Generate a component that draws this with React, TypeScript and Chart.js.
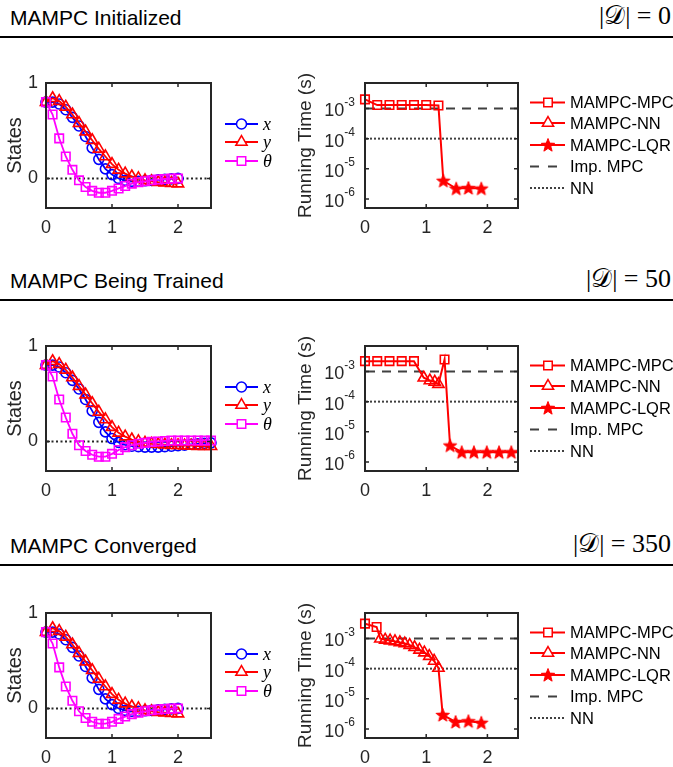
import React, { useEffect, useRef } from 'react';
import { Chart, registerables } from 'chart.js';

Chart.register(...registerables);

const SANS = '"Liberation Sans", Arial, Helvetica, sans-serif';
const SERIF = '"Liberation Serif", "DejaVu Serif", serif';
const BLUE = '#0000ff';
const RED = '#ff0000';
const MAGENTA = '#ff00ff';
const REF_GRAY = '#404040';
const AXIS = '#262626';

// ---------- tick labels ----------
const STATE_X_TICKS = [0, 1, 2];
const STATE_Y_TICKS = [0, 1];
const RUN_X_TICKS = [0, 1, 2];
const RUN_Y_TICKS = [1e-6, 1e-5, 1e-4, 1e-3];

// ---------- reference values ----------
const ZERO_STATE = 0;
const IMP_MPC_TIME = 1e-3;
const NN_TIME = 1e-4;

// ---------- time vectors ----------
const T_20 = [0, 0.1, 0.2, 0.3, 0.4, 0.5, 0.6, 0.7, 0.8, 0.9, 1.0, 1.1, 1.2, 1.3, 1.4, 1.5, 1.6, 1.7, 1.8, 1.9, 2.0];
const T_25 = [0, 0.1, 0.2, 0.3, 0.4, 0.5, 0.6, 0.7, 0.8, 0.9, 1.0, 1.1, 1.2, 1.3, 1.4, 1.5, 1.6, 1.7, 1.8, 1.9, 2.0, 2.1, 2.2, 2.3, 2.4, 2.5];

// ---------- panel 1 : MAMPC Initialized ----------
const P1_X = [0.80, 0.80, 0.78, 0.72, 0.64, 0.55, 0.44, 0.32, 0.20, 0.10, 0.04, 0.0, -0.02, -0.03, -0.03, -0.025, -0.02, -0.015, -0.01, -0.005, 0.0];
const P1_Y = [0.80, 0.84, 0.81, 0.75, 0.67, 0.58, 0.49, 0.40, 0.31, 0.23, 0.15, 0.09, 0.05, 0.02, 0.0, -0.02, -0.03, -0.04, -0.045, -0.05, -0.055];
const P1_TH = [0.80, 0.67, 0.42, 0.23, 0.09, -0.02, -0.09, -0.13, -0.15, -0.15, -0.13, -0.105, -0.08, -0.055, -0.04, -0.03, -0.02, -0.012, -0.006, -0.002, 0.0];
const P1_MPC_T = [0, 0.2, 0.4, 0.6, 0.8, 1.0, 1.2];
const P1_MPC_V = [2.0e-3, 1.3e-3, 1.3e-3, 1.3e-3, 1.3e-3, 1.3e-3, 1.25e-3];
const P1_NN_T: number[] = [];
const P1_NN_V: number[] = [];
const P1_LQR_T = [1.28, 1.49, 1.69, 1.9];
const P1_LQR_V = [4.0e-6, 2.2e-6, 2.3e-6, 2.2e-6];

// ---------- panel 2 : MAMPC Being Trained ----------
const P2_X = [0.80, 0.80, 0.78, 0.72, 0.64, 0.55, 0.44, 0.32, 0.20, 0.10, 0.03, -0.01, -0.035, -0.05, -0.055, -0.06, -0.06, -0.06, -0.055, -0.05, -0.045, -0.04, -0.03, -0.025, -0.02, -0.015];
const P2_Y = [0.80, 0.84, 0.81, 0.75, 0.67, 0.58, 0.49, 0.40, 0.31, 0.23, 0.15, 0.09, 0.05, 0.02, 0.0, -0.015, -0.025, -0.03, -0.035, -0.04, -0.04, -0.045, -0.045, -0.05, -0.05, -0.05];
const P2_TH = [0.80, 0.68, 0.44, 0.25, 0.08, -0.04, -0.10, -0.14, -0.16, -0.16, -0.13, -0.09, -0.06, -0.04, -0.025, -0.015, -0.005, 0.0, 0.005, 0.01, 0.01, 0.01, 0.01, 0.01, 0.01, 0.01];
const P2_MPC_T = [0, 0.2, 0.4, 0.6, 0.8, 1.3];
const P2_MPC_V = [2.2e-3, 2.2e-3, 2.2e-3, 2.2e-3, 2.2e-3, 2.5e-3];
const P2_NN_T = [0.96, 1.06, 1.14, 1.2];
const P2_NN_V = [6.2e-4, 5.0e-4, 4.5e-4, 3.8e-4];
const P2_LQR_T = [1.39, 1.58, 1.78, 1.99, 2.19, 2.39, 2.59];
const P2_LQR_V = [3.5e-6, 2.1e-6, 2.1e-6, 2.1e-6, 2.1e-6, 2.1e-6, 2.1e-6];

// ---------- panel 3 : MAMPC Converged ----------
const P3_X = [0.80, 0.80, 0.78, 0.72, 0.64, 0.55, 0.44, 0.32, 0.20, 0.10, 0.04, 0.0, -0.02, -0.03, -0.03, -0.025, -0.02, -0.015, -0.01, -0.005, 0.0];
const P3_Y = [0.80, 0.84, 0.81, 0.75, 0.67, 0.58, 0.49, 0.40, 0.31, 0.23, 0.15, 0.09, 0.05, 0.02, 0.0, -0.02, -0.03, -0.04, -0.045, -0.05, -0.055];
const P3_TH = [0.80, 0.68, 0.43, 0.23, 0.08, -0.03, -0.10, -0.14, -0.16, -0.16, -0.14, -0.11, -0.085, -0.06, -0.045, -0.03, -0.02, -0.012, -0.006, -0.002, 0.0];
const P3_MPC_T = [0, 0.19];
const P3_MPC_V = [3.1e-3, 2.4e-3];
const P3_NN_T = [0.25, 0.33, 0.41, 0.49, 0.57, 0.65, 0.73, 0.81, 0.89, 0.97, 1.05, 1.13, 1.2];
const P3_NN_V = [9.8e-4, 9.0e-4, 8.5e-4, 8.0e-4, 7.4e-4, 6.8e-4, 6.0e-4, 5.1e-4, 4.2e-4, 3.4e-4, 2.6e-4, 1.8e-4, 1.05e-4];
const P3_LQR_T = [1.27, 1.48, 1.69, 1.9];
const P3_LQR_V = [2.9e-6, 1.7e-6, 1.8e-6, 1.6e-6];

const PANEL_TITLES = ['MAMPC Initialized', 'MAMPC Being Trained', 'MAMPC Converged'];
const DATASET_SIZES = ['0', '50', '350'];

type Panel = {
  title: string; size: string; headerTop: number; chartTop: number;
  t: number[]; x: number[]; y: number[]; th: number[];
  mpcT: number[]; mpcV: number[]; nnT: number[]; nnV: number[]; lqrT: number[]; lqrV: number[];
};

const PANELS: Panel[] = [
  { title: PANEL_TITLES[0], size: DATASET_SIZES[0], headerTop: 0, chartTop: 0, t: T_20, x: P1_X, y: P1_Y, th: P1_TH,
    mpcT: P1_MPC_T, mpcV: P1_MPC_V, nnT: P1_NN_T, nnV: P1_NN_V, lqrT: P1_LQR_T, lqrV: P1_LQR_V },
  { title: PANEL_TITLES[1], size: DATASET_SIZES[1], headerTop: 263, chartTop: 263, t: T_25, x: P2_X, y: P2_Y, th: P2_TH,
    mpcT: P2_MPC_T, mpcV: P2_MPC_V, nnT: P2_NN_T, nnV: P2_NN_V, lqrT: P2_LQR_T, lqrV: P2_LQR_V },
  { title: PANEL_TITLES[2], size: DATASET_SIZES[2], headerTop: 528, chartTop: 530, t: T_20, x: P3_X, y: P3_Y, th: P3_TH,
    mpcT: P3_MPC_T, mpcV: P3_MPC_V, nnT: P3_NN_T, nnV: P3_NN_V, lqrT: P3_LQR_T, lqrV: P3_LQR_V },
];

// ---------- helpers ----------
function makeStar(r: number, color: string): HTMLCanvasElement {
  const size = Math.ceil(2 * r + 4);
  const c = document.createElement('canvas');
  c.width = size; c.height = size;
  const g = c.getContext('2d')!;
  const cx = size / 2, cy = size / 2 + 0.5, ri = r * 0.42;
  g.beginPath();
  for (let i = 0; i < 10; i++) {
    const a = -Math.PI / 2 + (i * Math.PI) / 5;
    const rr = i % 2 ? ri : r;
    g.lineTo(cx + rr * Math.cos(a), cy + rr * Math.sin(a));
  }
  g.closePath();
  g.fillStyle = color; g.fill();
  g.strokeStyle = color; g.lineWidth = 1; g.stroke();
  return c;
}

function drawMarker(ctx: CanvasRenderingContext2D, marker: any, x: number, y: number, r: number, color: string, lw: number) {
  if (!marker) return;
  if (typeof marker !== 'string') {
    ctx.drawImage(marker, x - marker.width / 2, y - marker.height / 2);
    return;
  }
  ctx.save();
  ctx.setLineDash([]);
  ctx.strokeStyle = color; ctx.lineWidth = lw;
  ctx.beginPath();
  if (marker === 'circle') ctx.arc(x, y, r, 0, Math.PI * 2);
  else if (marker === 'rect') { const s = r * Math.SQRT1_2; ctx.rect(x - s, y - s, 2 * s, 2 * s); }
  else if (marker === 'triangle') {
    for (let i = 0; i < 3; i++) {
      const a = (i * 2 * Math.PI) / 3;
      const px = x + Math.sin(a) * r, py = y - Math.cos(a) * r;
      if (i === 0) ctx.moveTo(px, py); else ctx.lineTo(px, py);
    }
    ctx.closePath();
  }
  ctx.fillStyle = '#ffffff';
  ctx.fill();
  ctx.stroke();
  ctx.restore();
}

type LegendItem = { label: string; color: string; marker?: any; r?: number; dash?: number[]; lineWidth: number; font: string };
type PluginCfg = {
  refLines: { value: number; dash: number[]; color: string; width: number }[];
  logLabels: boolean;
  legend: { items: LegendItem[]; x0: number; x1: number; xm: number; xt: number; rows: number[] };
};

function makeAxesPlugin(cfg: PluginCfg) {
  return {
    id: 'matlabAxes',
    beforeDatasetsDraw(chart: any) {
      const { ctx, chartArea: a } = chart;
      const ys = chart.scales.y;
      cfg.refLines.forEach((r) => {
        const py = ys.getPixelForValue(r.value);
        ctx.save();
        ctx.beginPath();
        ctx.setLineDash(r.dash);
        ctx.strokeStyle = r.color;
        ctx.lineWidth = r.width;
        ctx.moveTo(a.left + 1, py);
        ctx.lineTo(a.right - 1, py);
        ctx.stroke();
        ctx.restore();
      });
    },
    afterDraw(chart: any) {
      const { ctx, chartArea: a } = chart;
      const xs = chart.scales.x, ys = chart.scales.y;
      ctx.save();
      ctx.strokeStyle = AXIS;
      ctx.lineWidth = 1.5;
      ctx.beginPath();
      xs.ticks.forEach((t: any) => {
        const px = xs.getPixelForValue(t.value);
        ctx.moveTo(px, a.bottom); ctx.lineTo(px, a.bottom - 4);
        ctx.moveTo(px, a.top); ctx.lineTo(px, a.top + 4);
      });
      ys.ticks.forEach((t: any) => {
        const py = ys.getPixelForValue(t.value);
        ctx.moveTo(a.left, py); ctx.lineTo(a.left + 4, py);
        ctx.moveTo(a.right, py); ctx.lineTo(a.right - 4, py);
      });
      ctx.stroke();
      ctx.lineWidth = 2;
      ctx.strokeRect(a.left, a.top, a.right - a.left, a.bottom - a.top);
      if (cfg.logLabels) {
        ctx.fillStyle = AXIS;
        ys.ticks.forEach((t: any) => {
          const py = ys.getPixelForValue(t.value);
          const e = String(Math.round(Math.log10(t.value)));
          ctx.font = `12px ${SANS}`;
          const w = ctx.measureText(e).width;
          const x0 = a.left - 10 - w;
          ctx.textAlign = 'left';
          ctx.textBaseline = 'middle';
          ctx.fillText(e, x0, py - 6);
          ctx.font = `18px ${SANS}`;
          ctx.textAlign = 'right';
          ctx.fillText('10', x0, py + 3);
        });
      }
      const L = cfg.legend;
      L.items.forEach((it, i) => {
        const y = a.top + L.rows[i];
        ctx.save();
        ctx.beginPath();
        ctx.setLineDash(it.dash || []);
        ctx.strokeStyle = it.color;
        ctx.lineWidth = it.lineWidth;
        ctx.moveTo(a.right + L.x0, y);
        ctx.lineTo(a.right + L.x1, y);
        ctx.stroke();
        ctx.restore();
        drawMarker(ctx, it.marker, a.right + L.xm, y, it.r || 5, it.color, 1.5);
        ctx.fillStyle = '#000';
        ctx.font = it.font;
        ctx.textAlign = 'left';
        ctx.textBaseline = 'middle';
        ctx.fillText(it.label, a.right + L.xt, y + 1);
      });
      ctx.restore();
    },
  };
}

function linearX(ticks: number[]) {
  return {
    type: 'linear', min: 0, max: 2.5,
    afterBuildTicks: (s: any) => { s.ticks = ticks.map((v) => ({ value: v })); },
    ticks: { font: { family: SANS, size: 18 }, color: AXIS, padding: 9, maxRotation: 0, autoSkip: false, callback: (v: any) => String(v) },
    grid: { display: false, drawTicks: false },
    border: { display: false },
    afterFit: (s: any) => { s.height = 27; },
  };
}

function statesConfig(p: Panel): any {
  const series = [
    { vals: p.x, color: BLUE, style: 'circle', r: 5, label: 'x', order: 3 },
    { vals: p.y, color: RED, style: 'triangle', r: 6.5, label: 'y', order: 2 },
    { vals: p.th, color: MAGENTA, style: 'rect', r: 6, label: 'θ', order: 1 },
  ];
  return {
    type: 'line',
    data: {
      datasets: series.map((s) => ({
        label: s.label,
        data: s.vals.map((v, i) => ({ x: p.t[i], y: v })),
        borderColor: s.color, backgroundColor: s.color, borderWidth: 1.8,
        pointStyle: s.style, pointRadius: s.r, pointBorderWidth: 1.6,
        pointBorderColor: s.color, pointBackgroundColor: 'rgba(0,0,0,0)',
        tension: 0, order: s.order, clip: false,
      })),
    },
    options: {
      responsive: false, animation: false, events: [],
      layout: { padding: { top: 23, right: 79, left: 0, bottom: 0 } },
      plugins: { legend: { display: false }, tooltip: { enabled: false } },
      scales: {
        x: linearX(STATE_X_TICKS),
        y: {
          type: 'linear', min: -0.31, max: 1,
          afterBuildTicks: (s: any) => { s.ticks = STATE_Y_TICKS.map((v) => ({ value: v })); },
          ticks: { font: { family: SANS, size: 18 }, color: AXIS, padding: 8, callback: (v: any) => String(v) },
          grid: { display: false, drawTicks: false },
          border: { display: false },
          title: { display: true, text: 'States', color: AXIS, font: { family: SANS, size: 20 }, padding: { top: 3, bottom: 3 } },
          afterFit: (s: any) => { s.width = 46; },
        },
      },
    },
    plugins: [makeAxesPlugin({
      refLines: [{ value: ZERO_STATE, dash: [2, 2.5], color: AXIS, width: 2 }],
      logLabels: false,
      legend: {
        items: series.map((s) => ({ label: s.label, color: s.color, marker: s.style, r: s.r, lineWidth: 1.8, font: `italic 18px ${SERIF}` })),
        x0: 14, x1: 47, xm: 30.5, xt: 52, rows: [41, 59, 78],
      },
    })],
  };
}

function runConfig(p: Panel): any {
  const star = makeStar(7, RED);
  const all = [
    ...p.mpcT.map((t, i) => ({ x: t, y: p.mpcV[i] })),
    ...p.nnT.map((t, i) => ({ x: t, y: p.nnV[i] })),
    ...p.lqrT.map((t, i) => ({ x: t, y: p.lqrV[i] })),
  ].sort((a, b) => a.x - b.x);
  const clip = { left: false, top: false, bottom: false, right: 0 };
  const markerSet = (label: string, ts: number[], vs: number[], style: any, r: number) => ({
    label, data: ts.map((t, i) => ({ x: t, y: vs[i] })), showLine: false,
    pointStyle: style, pointRadius: r, pointBorderWidth: 1.6, pointBorderColor: RED,
    pointBackgroundColor: 'rgba(0,0,0,0)', borderColor: RED, clip, order: 1,
  });
  return {
    type: 'line',
    data: {
      datasets: [
        { label: 'path', data: all, borderColor: RED, borderWidth: 2, pointRadius: 0, tension: 0, clip, order: 5 },
        markerSet('MAMPC-MPC', p.mpcT, p.mpcV, 'rect', 6),
        markerSet('MAMPC-NN', p.nnT, p.nnV, 'triangle', 6.5),
        markerSet('MAMPC-LQR', p.lqrT, p.lqrV, star, 7),
      ],
    },
    options: {
      responsive: false, animation: false, events: [],
      layout: { padding: { top: 23, right: 155, left: 0, bottom: 0 } },
      plugins: { legend: { display: false }, tooltip: { enabled: false } },
      scales: {
        x: linearX(RUN_X_TICKS),
        y: {
          type: 'logarithmic', min: 5e-7, max: 7e-3,
          afterBuildTicks: (s: any) => { s.ticks = RUN_Y_TICKS.map((v) => ({ value: v })); },
          ticks: { display: false },
          grid: { display: false, drawTicks: false },
          border: { display: false },
          title: { display: true, text: 'Running Time (s)', color: AXIS, font: { family: SANS, size: 19 }, padding: { top: 4, bottom: 4 } },
          afterFit: (s: any) => { s.width = 75; },
        },
      },
    },
    plugins: [makeAxesPlugin({
      refLines: [
        { value: IMP_MPC_TIME, dash: [9, 7], color: REF_GRAY, width: 2 },
        { value: NN_TIME, dash: [2, 2], color: REF_GRAY, width: 2 },
      ],
      logLabels: true,
      legend: {
        items: [
          { label: 'MAMPC-MPC', color: RED, marker: 'rect', r: 6, lineWidth: 2, font: `16.5px ${SANS}` },
          { label: 'MAMPC-NN', color: RED, marker: 'triangle', r: 6.5, lineWidth: 2, font: `16.5px ${SANS}` },
          { label: 'MAMPC-LQR', color: RED, marker: star, r: 7, lineWidth: 2, font: `16.5px ${SANS}` },
          { label: 'Imp. MPC', color: REF_GRAY, dash: [9, 9], lineWidth: 2, font: `16.5px ${SANS}` },
          { label: 'NN', color: REF_GRAY, dash: [2, 2], lineWidth: 2, font: `16.5px ${SANS}` },
        ],
        x0: 12, x1: 47, xm: 30, xt: 52, rows: [19.5, 40, 62, 83.5, 105],
      },
    })],
  };
}

function ChartBox({ left, top, width, height, build }: { left: number; top: number; width: number; height: number; build: () => any }) {
  const ref = useRef<HTMLCanvasElement>(null);
  useEffect(() => {
    const chart = new Chart(ref.current as HTMLCanvasElement, build());
    return () => chart.destroy();
  }, []);
  return <canvas ref={ref} width={width} height={height} style={{ position: 'absolute', left, top, width, height }} />;
}

function PanelView({ p }: { p: Panel }) {
  return (
    <>
      <div style={{ position: 'absolute', left: 10, top: p.headerTop + 5, font: `21px ${SANS}`, lineHeight: '25px', color: '#000', whiteSpace: 'nowrap' }}>
        {p.title}
      </div>
      <div style={{ position: 'absolute', right: 2, top: p.headerTop + 1, font: `26px ${SERIF}`, lineHeight: '30px', color: '#000', whiteSpace: 'nowrap' }}>
        |𝒟| = {p.size}
      </div>
      <div style={{ position: 'absolute', left: 0, top: p.headerTop + 36, width: 673, height: 2, background: '#000' }} />
      <ChartBox left={0} top={p.chartTop + 60} width={290} height={175} build={() => statesConfig(p)} />
      <ChartBox left={290} top={p.chartTop + 60} width={383} height={175} build={() => runConfig(p)} />
    </>
  );
}

export default function App() {
  return (
    <div style={{ position: 'absolute', left: 0, top: 0, width: 673, height: 767, overflow: 'hidden', background: '#fff' }}>
      {PANELS.map((p, i) => (
        <PanelView key={i} p={p} />
      ))}
    </div>
  );
}
